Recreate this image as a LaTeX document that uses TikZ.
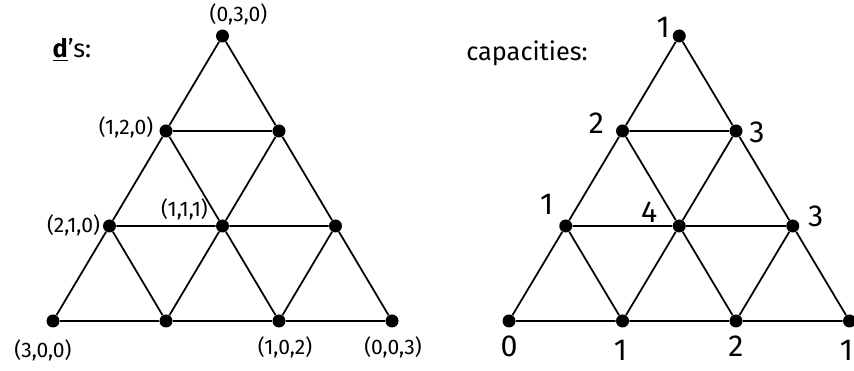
\documentclass[tikz,border=0pt]{standalone}
\usepackage{fontspec}
\setmainfont{Fira Sans}
\usepackage{tikz}
\usetikzlibrary{positioning}

\begin{document}
\begin{tikzpicture}[
  dot/.style={circle, fill=black, inner sep=0pt, minimum size=0.26cm},
  edge/.style={line width=1pt, black},
  lbl/.style={inner sep=1pt, font=\large},
  caplbl/.style={inner sep=1pt, font=\LARGE},
  ttl/.style={inner sep=1pt, font=\Large}
]
  \useasboundingbox (0,0) rectangle (17.08,7.42);

  % lattice points: d<row><k> on the left, c<row><k> on the right
  \foreach \r in {0,...,3}{
    \pgfmathtruncatemacro\kmax{3-\r}
    \foreach \k in {0,...,\kmax}{
      \node[dot] (d\r\k) at ({1.06+(\k+\r/2)*2.26},{1.00+\r*1.90}) {};
      \node[dot] (c\r\k) at ({10.18+(\k+\r/2)*2.27},{1.00+\r*1.90}) {};
    }
  }

  % triangle edges
  \foreach \r in {0,1,2}{
    \pgfmathtruncatemacro\kmax{2-\r}
    \pgfmathtruncatemacro\rr{\r+1}
    \foreach \k in {0,...,\kmax}{
      \pgfmathtruncatemacro\kk{\k+1}
      \draw[edge] (d\r\k) -- (d\r\kk) (d\r\k) -- (d\rr\k) (d\r\kk) -- (d\rr\k);
      \draw[edge] (c\r\k) -- (c\r\kk) (c\r\k) -- (c\rr\k) (c\r\kk) -- (c\rr\k);
    }
  }

  % titles
  \node[ttl] (dtitle) at (1.44,6.42) {\underline{\textbf{d}}’s:};
  \node[ttl] (ctitle) at (10.54,6.36) {capacities:};

  % d labels
  \node[lbl, xshift=0.32cm, yshift=0.44cm] (n030) at (d30) {(0,3,0)};
  \node[lbl, xshift=-0.80cm, yshift=0.08cm] (n120) at (d20) {(1,2,0)};
  \node[lbl, xshift=-0.72cm, yshift=0.02cm] (n210) at (d10) {(2,1,0)};
  \node[lbl, xshift=-0.76cm, yshift=0.34cm] (n111) at (d11) {(1,1,1)};
  \node[lbl, xshift=-0.20cm, yshift=-0.58cm] (n300) at (d00) {(3,0,0)};
  \node[lbl, xshift=0.12cm, yshift=-0.52cm] (n102) at (d02) {(1,0,2)};
  \node[lbl, xshift=0.02cm, yshift=-0.52cm] (n003) at (d03) {(0,0,3)};

  % capacity labels
  \node[caplbl, xshift=-0.32cm, yshift=0.18cm] (k30) at (c30) {1};
  \node[caplbl, xshift=-0.52cm, yshift=0.16cm] (k20) at (c20) {2};
  \node[caplbl, xshift=0.42cm, yshift=-0.02cm] (k21) at (c21) {3};
  \node[caplbl, xshift=-0.38cm, yshift=0.44cm] (k10) at (c10) {1};
  \node[caplbl, xshift=-0.60cm, yshift=0.28cm] (k11) at (c11) {4};
  \node[caplbl, xshift=0.46cm, yshift=0.20cm] (k12) at (c12) {3};
  \node[caplbl, yshift=-0.50cm] (k00) at (c00) {0};
  \node[caplbl, xshift=-0.04cm, yshift=-0.58cm] (k01) at (c01) {1};
  \node[caplbl, yshift=-0.50cm] (k02) at (c02) {2};
  \node[caplbl, xshift=-0.06cm, yshift=-0.58cm] (k03) at (c03) {1};
\end{tikzpicture}
\end{document}
